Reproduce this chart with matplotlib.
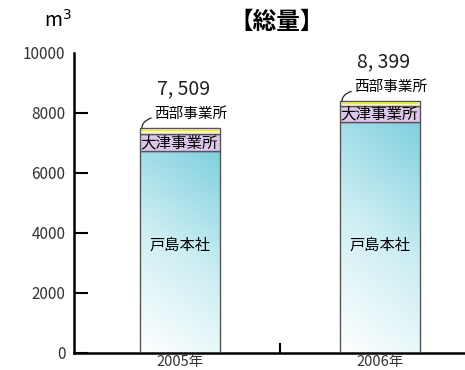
import numpy as np
import matplotlib.pyplot as plt
from matplotlib.patches import Rectangle
from matplotlib.colors import LinearSegmentedColormap

plt.rcParams['font.family'] = ['Noto Sans CJK JP', 'DejaVu Sans']

# データ（m3）
years = ['2005年', '2006年']
toshima = [6720, 7700]   # 戸島本社
otsu = [590, 520]        # 大津事業所
seibu = [199, 179]       # 西部事業所
totals = [7509, 8399]
total_labels = ['7, 509', '8, 399']

fig = plt.figure(figsize=(4.65, 3.7), dpi=100)
ax = fig.add_axes([0.159, 0.046, 0.841, 0.811])

x = np.arange(len(years))
w = 0.4
cmap = LinearSegmentedColormap.from_list('aq', ['#ffffff', '#cdeef3', '#7fd0df'])

# グラデーション用の画像
gx, gy = np.meshgrid(np.linspace(0, 1, 50), np.linspace(0, 1, 200))
grad = 0.25 * gx + 0.85 * gy

for i in range(len(years)):
    left = x[i] - w / 2
    rect = Rectangle((left, 0), w, toshima[i], facecolor='none',
                     edgecolor='#555555', lw=1.0, zorder=3)
    ax.add_patch(rect)
    im = ax.imshow(grad, cmap=cmap, origin='lower', aspect='auto',
                   extent=(left, left + w, 0, toshima[i]), zorder=2,
                   vmin=0, vmax=1.1)
    im.set_clip_path(rect)
    ax.bar(x[i], otsu[i], w, bottom=toshima[i], color='#dcc6ea',
           edgecolor='#555555', lw=1.0, zorder=3)
    ax.bar(x[i], seibu[i], w, bottom=toshima[i] + otsu[i], color='#f6f6d0',
           edgecolor='#555555', lw=1.0, zorder=3)
    ax.bar(x[i], seibu[i] * 0.35, w * 0.96,
           bottom=toshima[i] + otsu[i] + seibu[i] * 0.45,
           color='#e6e64a', lw=0, zorder=4)

    ax.text(x[i], 3580, '戸島本社', ha='center', va='center',
            fontsize=11, zorder=5)
    ax.text(x[i] - w / 2 + 0.003, toshima[i] + otsu[i] / 2, '大津事業所',
            ha='left', va='center', fontsize=11.2, zorder=5)
    ax.annotate('西部事業所', xy=(x[i] - w / 2 + 0.01, totals[i]),
                xytext=(x[i] - w / 2 + 0.07, totals[i] + 470),
                ha='left', va='center', fontsize=10.5,
                arrowprops=dict(arrowstyle='-', lw=0.9, color='#222222',
                                connectionstyle='angle3,angleA=0,angleB=90',
                                shrinkA=0, shrinkB=0))
    ax.text(x[i] + 0.02, totals[i] + 1300, total_labels[i], ha='center',
            va='center', fontsize=14, color='#222222')

ax.set_xlim(-0.53, 1.425)
ax.set_ylim(0, 10000)
ax.set_yticks(np.arange(0, 10001, 2000))
ax.set_yticklabels([str(v) for v in range(0, 10001, 2000)], fontsize=11,
                   color='#333333')
ax.tick_params(axis='y', direction='in', length=10, width=1.5, pad=6)
ax.yaxis.get_major_ticks()[-1].tick1line.set_visible(False)
ax.set_xticks([0.5])
ax.set_xticklabels([])
ax.tick_params(axis='x', direction='in', length=7, width=1.5)
for i in range(len(years)):
    ax.text(x[i], -70, years[i], ha='center', va='top', fontsize=10.5,
            clip_on=False, color='#333333')

for s in ['top', 'right']:
    ax.spines[s].set_visible(False)
ax.spines['left'].set_linewidth(1.8)
ax.spines['bottom'].set_linewidth(1.8)

fig.text(0.125, 0.945, 'm$^3$', fontsize=14, ha='center', va='center')
fig.text(0.594, 0.942, '【総量】', fontsize=17, ha='center', va='center',
         fontweight='bold')

fig.savefig('out.png', dpi=100)
